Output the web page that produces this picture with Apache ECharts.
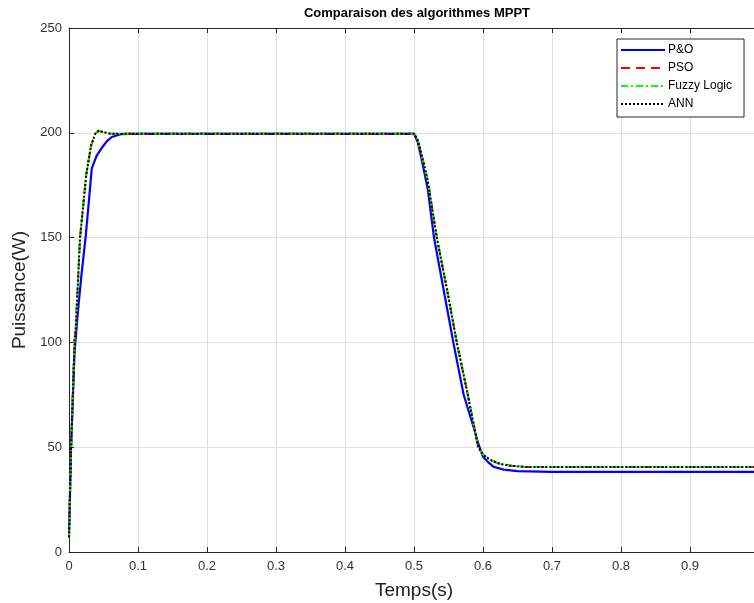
<!DOCTYPE html>
<html><head><meta charset="utf-8">
<script src="https://cdn.jsdelivr.net/npm/echarts@6/dist/echarts.min.js"></script>
<style>html,body{margin:0;padding:0;background:#fff;overflow:hidden}#c{width:800px;height:603px}</style>
</head><body><div id="c"></div>
<script>
var xTicks = [0,0.1,0.2,0.3,0.4,0.5,0.6,0.7,0.8,0.9,1];
var yTicks = [0,50,100,150,200,250];

var tPO = [0,0.003,0.008,0.013,0.018,0.024,0.029,0.033,0.04,0.048,0.055,0.062,0.075,0.09,0.5,0.505,0.51,0.52,0.529,0.543,0.557,0.572,0.586,0.593,0.6,0.607,0.615,0.63,0.65,0.7,1.0];
var pPO = [7,50,95,115,132,150,168,183,189,193,196,198,199.3,199.5,199.5,196,189,173,150,125,100,75,60,52,45.5,43,40.7,39.3,38.6,38.2,38.2];

var tPSO = [0,0.003,0.008,0.010,0.016,0.025,0.032,0.038,0.043,0.05,0.06,0.5,0.505,0.51,0.52,0.533,0.548,0.562,0.578,0.593,0.6,0.61,0.625,0.64,0.66,1.0];
var pPSO = [7,50,100,108,150,180,194,199.5,201,200.3,199.6,199.6,197,191,177,150,125,100,75,50,46.5,44,42,41.2,40.6,40.5];

var tFuzzy = [0,0.003,0.008,0.010,0.016,0.025,0.032,0.038,0.043,0.05,0.06,0.5,0.505,0.51,0.52,0.533,0.548,0.562,0.578,0.593,0.6,0.61,0.625,0.64,0.66,1.0];
var pFuzzy = [7,50,100,108,150,180,194,199.5,201,200.3,199.6,199.6,197,191,177,150,125,100,75,50,46.5,44,42,41.2,40.6,40.5];

var tANN = [0,0.003,0.008,0.010,0.016,0.025,0.032,0.038,0.043,0.05,0.06,0.5,0.505,0.51,0.52,0.533,0.548,0.562,0.578,0.593,0.6,0.61,0.625,0.64,0.66,1.0];
var pANN = [7,50,100,108,150,180,194,199.5,201,200.3,199.6,199.6,197,191,177,150,125,100,75,50,46.5,44,42,41.2,40.6,40.5];

function pairs(t,p){return t.map(function(v,i){return [v,p[i]];});}

var FONT = '"Liberation Sans", Arial, sans-serif';
var AX = '#262626';
var chart = echarts.init(document.getElementById('c'), null, {renderer:'canvas'});
chart.setOption({
  animation:false,
  backgroundColor:'#fff',
  title:{text:'Comparaison des algorithmes MPPT', left:412, top:2, textAlign:'center',
    textStyle:{fontFamily:FONT,fontSize:13,fontWeight:'bold',color:'#000'}},
  grid:{left:69, top:28, right:41, bottom:51, containLabel:false, outerBoundsMode:'none'},
  legend:{orient:'vertical', left:617, top:39, itemWidth:44, itemHeight:10, itemGap:6,
    backgroundColor:'#fff', borderColor:'#262626', borderWidth:1, padding:[5,12,7,3],
    itemStyle:{opacity:0},
    textStyle:{fontFamily:FONT,fontSize:12,color:'#000',padding:[0,0,0,-2]},
    data:['P&O','PSO','Fuzzy Logic','ANN']},
  xAxis:[{type:'value', min:0, max:1, interval:0.1, position:'bottom',
    axisLine:{onZero:false,lineStyle:{color:AX,width:1}},
    axisTick:{inside:true,length:5,lineStyle:{color:AX}},
    axisLabel:{color:'#333',fontFamily:FONT,fontSize:13,margin:8,
      formatter:function(v){var s=String(Math.round(v*10)/10);return xTicks.indexOf(Number(s))>=0?s:'';}},
    splitLine:{show:true,lineStyle:{color:'#dfdfdf',width:1}},
    name:'Temps(s)', nameLocation:'middle', nameGap:29,
    nameTextStyle:{fontFamily:FONT,fontSize:19,color:'#222'}},
   {type:'value', min:0, max:1, interval:0.1, position:'top',
    axisLine:{show:true,onZero:false,lineStyle:{color:AX,width:1}},
    axisTick:{show:true,inside:true,length:5,lineStyle:{color:AX}},
    axisLabel:{show:false}, splitLine:{show:false}}],
  yAxis:[{type:'value', min:0, max:250, interval:50, position:'left',
    axisLine:{show:true,onZero:false,lineStyle:{color:AX,width:1}},
    axisTick:{show:true,inside:true,length:5,lineStyle:{color:AX}},
    axisLabel:{color:'#333',fontFamily:FONT,fontSize:13,margin:7},
    splitLine:{show:true,lineStyle:{color:'#dfdfdf',width:1}},
    name:'Puissance(W)', nameLocation:'middle', nameGap:35,
    nameTextStyle:{fontFamily:FONT,fontSize:19,color:'#222'}},
   {type:'value', min:0, max:250, interval:50, position:'right',
    axisLine:{show:true,onZero:false,lineStyle:{color:AX}}, axisTick:{show:true,inside:true,length:5,lineStyle:{color:AX}},
    axisLabel:{show:false}, splitLine:{show:false}}],
  series:[
    {name:'P&O', type:'line', data:pairs(tPO,pPO), showSymbol:false, symbol:'none',
      lineStyle:{color:'#0000ff',width:2.2}, itemStyle:{color:'#0000ff'}},
    {name:'PSO', type:'line', data:pairs(tPSO,pPSO), showSymbol:false, symbol:'none',
      lineStyle:{color:'#ff0000',width:2,type:[9,6]}, itemStyle:{color:'#ff0000'}},
    {name:'Fuzzy Logic', type:'line', data:pairs(tFuzzy,pFuzzy), showSymbol:false, symbol:'none',
      lineStyle:{color:'#00ff00',width:2,type:[7,3,2,3]}, itemStyle:{color:'#00ff00'}},
    {name:'ANN', type:'line', data:pairs(tANN,pANN), showSymbol:false, symbol:'none',
      lineStyle:{color:'#000000',width:2,type:[2,2]}, itemStyle:{color:'#000000'}}
  ]
});
</script></body></html>
